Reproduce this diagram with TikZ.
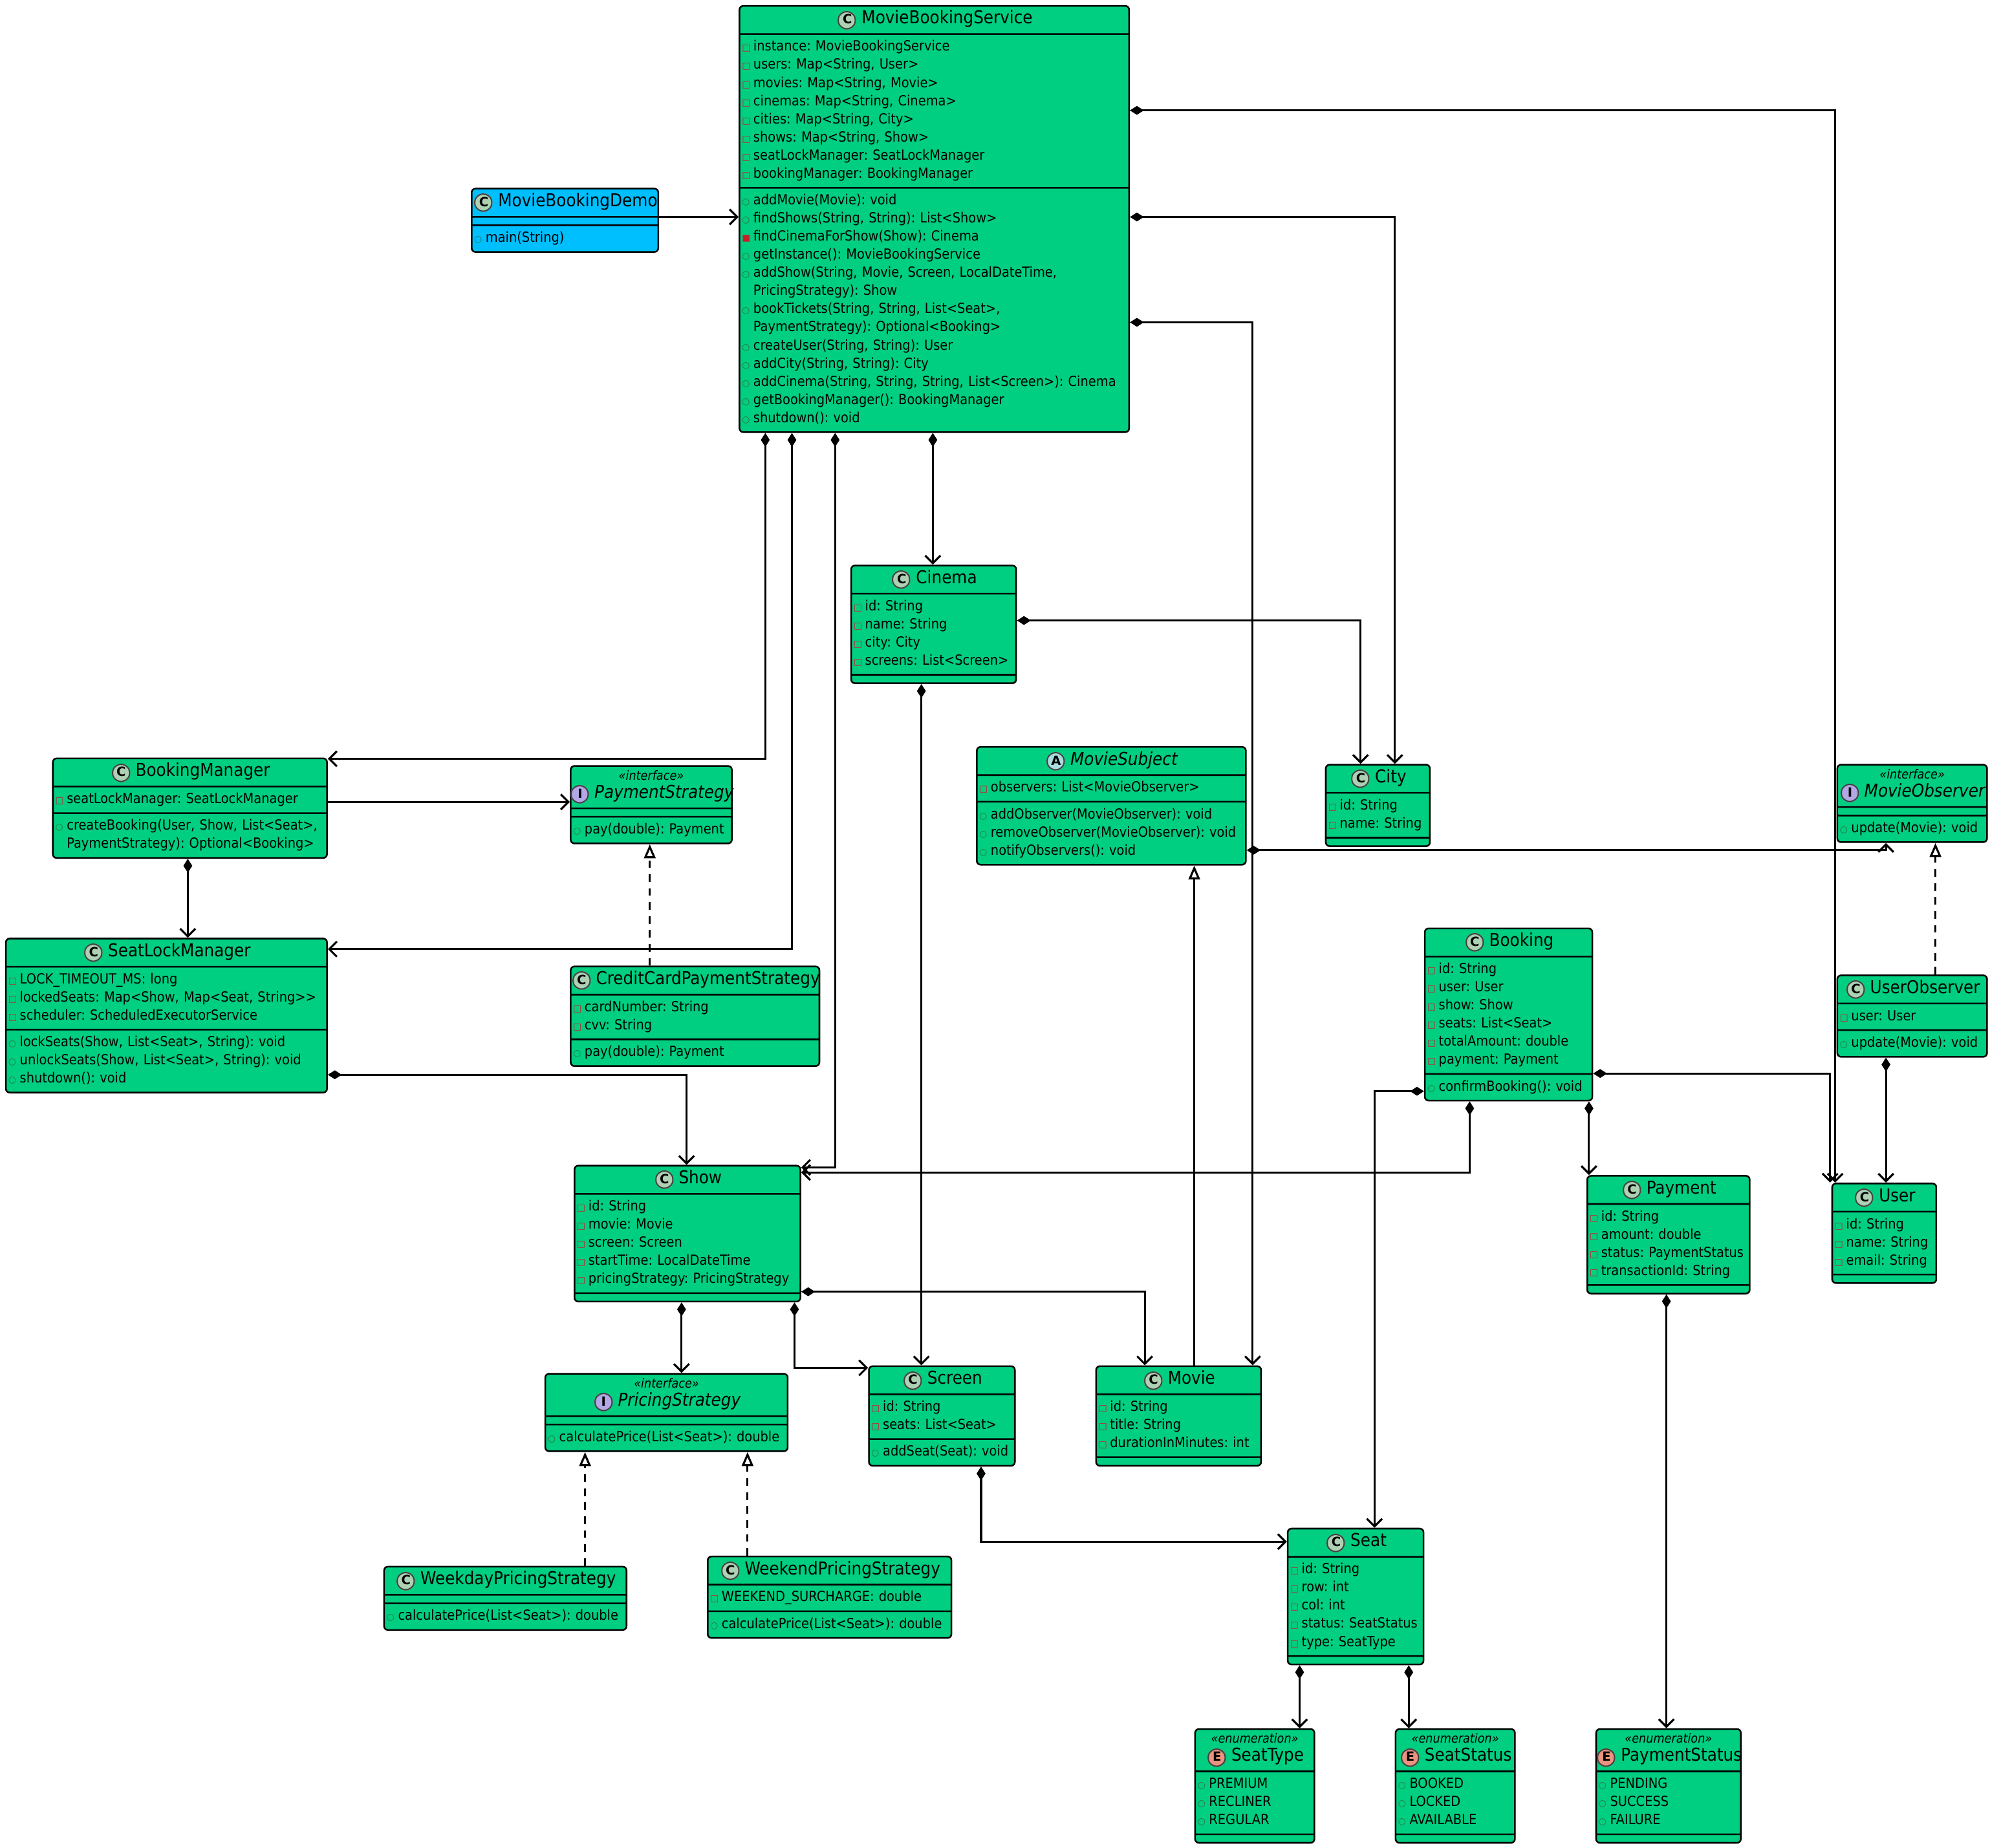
\documentclass[tikz,border=0pt]{standalone}
\usepackage{fontspec}
\setmainfont{DejaVu Sans Condensed}
\newfontfamily\dejavu{DejaVu Sans}
\usetikzlibrary{shapes.multipart,arrows.meta}
\definecolor{boxg}{RGB}{0,206,128}
\definecolor{democ}{RGB}{0,191,255}
\definecolor{icC}{RGB}{173,209,178}
\definecolor{icI}{RGB}{180,167,229}
\definecolor{icA}{RGB}{169,220,223}
\definecolor{icE}{RGB}{235,147,127}
\definecolor{privr}{RGB}{200,30,40}
\definecolor{pubg}{RGB}{50,110,60}
\newif\iffirstitem
\newcommand\lst{\raggedright\firstitemtrue}
\newcommand\nxt{\iffirstitem\firstitemfalse\else\par\fi}
\newcommand\ico[2]{\makebox[18pt][c]{\makebox[0pt][c]{\dejavu\fontsize{19}{19}\selectfont\raisebox{-2.2pt}{\textcolor{#1}{●}}}\makebox[0pt][c]{\dejavu\fontsize{19}{19}\selectfont\raisebox{-2.2pt}{\textcolor{black!75}{○}}}\makebox[0pt][c]{\dejavu\fontsize{10}{10}\selectfont\textbf{#2}}}}
\newcommand\vfp{\nxt\strut\makebox[9pt][l]{\dejavu\fontsize{7}{7}\selectfont\textcolor{privr}{□}}}
\newcommand\vmp{\nxt\strut\makebox[9pt][l]{\dejavu\fontsize{7}{7}\selectfont\textcolor{pubg}{○}}}
\newcommand\vmq{\nxt\strut\makebox[9pt][l]{\dejavu\fontsize{7}{7}\selectfont\textcolor{privr}{■}}}
\newcommand\vind{\par\strut\hspace*{9pt}}
\newcommand\ttl[3]{\hbox to\linewidth{\hss\fontsize{14}{15.5}\selectfont\strut\ico{#1}{#2}\,#3\hss}}
\newcommand\stt[4]{\vbox{\hbox to\linewidth{\hss\fontsize{10}{11}\selectfont\itshape\strut «#3»\hss}\hbox to\linewidth{\hss\fontsize{14}{15.5}\selectfont\strut\ico{#1}{#2}\,#4\hss}}}
\tikzset{
 cls/.style={rectangle split, rectangle split parts=3, draw, line width=1.3pt, rounded corners=3pt,
   inner xsep=2pt, inner ysep=2.7pt, rectangle split empty part height=0pt, anchor=north west,
   font=\fontsize{11}{14.3}\selectfont\frenchspacing, fill=boxg},
 lnk/.style={line width=1.6pt},
 comp/.style={lnk,{Diamond[length=11pt,width=7pt]}-{Straight Barb[length=6pt,width=12pt]}},
 assoc/.style={lnk,-{Straight Barb[length=6pt,width=12pt]}},
 real/.style={lnk,dash pattern=on 6pt off 5pt,-{Triangle[open,fill=white,length=11pt,width=9pt]}},
 inh/.style={lnk,-{Triangle[open,fill=white,length=11pt,width=9pt]}}
}
\begin{document}
\begin{tikzpicture}[x=1pt,y=-1pt]
\useasboundingbox[fill=white] (0,0) rectangle (1568,1456);
\node[cls,text width=303pt] (mbs) at (582,4) {\ttl{icC}{C}{MovieBookingService}
\nodepart{two}\lst\vfp instance: MovieBookingService\vfp users: Map<String, User>\vfp movies: Map<String, Movie>\vfp cinemas: Map<String, Cinema>\vfp cities: Map<String, City>\vfp shows: Map<String, Show>\vfp seatLockManager: SeatLockManager\vfp bookingManager: BookingManager
\nodepart{three}\lst\vmp addMovie(Movie): void\vmp findShows(String, String): List<Show>\vmq findCinemaForShow(Show): Cinema\vmp getInstance(): MovieBookingService\vmp addShow(String, Movie, Screen, LocalDateTime,\vind PricingStrategy): Show\vmp bookTickets(String, String, List<Seat>,\vind PaymentStrategy): Optional<Booking>\vmp createUser(String, String): User\vmp addCity(String, String): City\vmp addCinema(String, String, String, List<Screen>): Cinema\vmp getBookingManager(): BookingManager\vmp shutdown(): void};
\node[cls,fill=democ,text width=143pt] (demo) at (371,148) {\ttl{icC}{C}{MovieBookingDemo}\nodepart{two}\nodepart{three}\lst\vmp main(String)};
\node[cls,text width=126pt] (cinema) at (670,445) {\ttl{icC}{C}{Cinema}\nodepart{two}\lst\vfp id: String\vfp name: String\vfp city: City\vfp screens: List<Screen>\nodepart{three}};
\node[cls,text width=78pt] (city) at (1044,602) {\ttl{icC}{C}{City}\nodepart{two}\lst\vfp id: String\vfp name: String\nodepart{three}};
\node[cls,text width=208pt] (msub) at (769,588) {\ttl{icA}{A}{\textit{MovieSubject}}\nodepart{two}\lst\vfp observers: List<MovieObserver>\nodepart{three}\lst\vmp addObserver(MovieObserver): void\vmp removeObserver(MovieObserver): void\vmp notifyObservers(): void};
\node[cls,text width=114pt] (mobs) at (1447,602) {\stt{icI}{I}{interface}{\textit{MovieObserver}}\nodepart{two}\nodepart{three}\lst\vmp update(Movie): void};
\node[cls,text width=212pt] (bm) at (41,597) {\ttl{icC}{C}{BookingManager}\nodepart{two}\lst\vfp seatLockManager: SeatLockManager\nodepart{three}\lst\vmp createBooking(User, Show, List<Seat>,\vind PaymentStrategy): Optional<Booking>};
\node[cls,text width=123pt] (pays) at (449,603) {\stt{icI}{I}{interface}{\textit{PaymentStrategy}}\nodepart{two}\nodepart{three}\lst\vmp pay(double): Payment};
\node[cls,text width=249pt] (slm) at (4,739) {\ttl{icC}{C}{SeatLockManager}\nodepart{two}\lst\vfp LOCK\_TIMEOUT\_MS: long\vfp lockedSeats: Map<Show, Map<Seat, String>{}>\vfp scheduler: ScheduledExecutorService\nodepart{three}\lst\vmp lockSeats(Show, List<Seat>, String): void\vmp unlockSeats(Show, List<Seat>, String): void\vmp shutdown(): void};
\node[cls,text width=192pt] (cc) at (449,761) {\ttl{icC}{C}{CreditCardPaymentStrategy}\nodepart{two}\lst\vfp cardNumber: String\vfp cvv: String\nodepart{three}\lst\vmp pay(double): Payment};
\node[cls,text width=128pt] (booking) at (1122,731) {\ttl{icC}{C}{Booking}\nodepart{two}\lst\vfp id: String\vfp user: User\vfp show: Show\vfp seats: List<Seat>\vfp totalAmount: double\vfp payment: Payment\nodepart{three}\lst\vmp confirmBooking(): void};
\node[cls,text width=114pt] (uobs) at (1447,768) {\ttl{icC}{C}{UserObserver}\nodepart{two}\lst\vfp user: User\nodepart{three}\lst\vmp update(Movie): void};
\node[cls,text width=174pt] (show) at (452,918) {\ttl{icC}{C}{Show}\nodepart{two}\lst\vfp id: String\vfp movie: Movie\vfp screen: Screen\vfp startTime: LocalDateTime\vfp pricingStrategy: PricingStrategy\nodepart{three}};
\node[cls,text width=124pt] (payment) at (1250,926) {\ttl{icC}{C}{Payment}\nodepart{two}\lst\vfp id: String\vfp amount: double\vfp status: PaymentStatus\vfp transactionId: String\nodepart{three}};
\node[cls,text width=78pt] (user) at (1443,932) {\ttl{icC}{C}{User}\nodepart{two}\lst\vfp id: String\vfp name: String\vfp email: String\nodepart{three}};
\node[cls,text width=187pt] (prs) at (429,1082) {\stt{icI}{I}{interface}{\textit{PricingStrategy}}\nodepart{two}\nodepart{three}\lst\vmp calculatePrice(List<Seat>): double};
\node[cls,text width=111pt] (screen) at (684,1076) {\ttl{icC}{C}{Screen}\nodepart{two}\lst\vfp id: String\vfp seats: List<Seat>\nodepart{three}\lst\vmp addSeat(Seat): void};
\node[cls,text width=126pt] (movie) at (863,1076) {\ttl{icC}{C}{Movie}\nodepart{two}\lst\vfp id: String\vfp title: String\vfp durationInMinutes: int\nodepart{three}};
\node[cls,text width=187pt] (wday) at (302,1234) {\ttl{icC}{C}{WeekdayPricingStrategy}\nodepart{two}\nodepart{three}\lst\vmp calculatePrice(List<Seat>): double};
\node[cls,text width=188pt] (wend) at (557,1226) {\ttl{icC}{C}{WeekendPricingStrategy}\nodepart{two}\lst\vfp WEEKEND\_SURCHARGE: double\nodepart{three}\lst\vmp calculatePrice(List<Seat>): double};
\node[cls,text width=103pt] (seat) at (1014,1204) {\ttl{icC}{C}{Seat}\nodepart{two}\lst\vfp id: String\vfp row: int\vfp col: int\vfp status: SeatStatus\vfp type: SeatType\nodepart{three}};
\node[cls,text width=90pt] (stype) at (941,1362) {\stt{icE}{E}{enumeration}{SeatType}\nodepart{two}\lst\vmp PREMIUM\vmp RECLINER\vmp REGULAR\nodepart{three}};
\node[cls,text width=90pt] (sstat) at (1099,1362) {\stt{icE}{E}{enumeration}{SeatStatus}\nodepart{two}\lst\vmp BOOKED\vmp LOCKED\vmp AVAILABLE\nodepart{three}};
\node[cls,text width=110pt] (pstat) at (1257,1362) {\stt{icE}{E}{enumeration}{PaymentStatus}\nodepart{two}\lst\vmp PENDING\vmp SUCCESS\vmp FAILURE\nodepart{three}};
% connectors
\draw[assoc] (demo.east |- 0,171) -- (mbs.west |- 0,171);
\draw[comp] (mbs.east |- 0,87) -- (1446,87) -- (1446,0 |- user.north);
\draw[comp] (mbs.east |- 0,171) -- (1099,171) -- (1099,0 |- city.north);
\draw[comp] (mbs.east |- 0,254) -- (987,254) -- (987,0 |- movie.north);
\draw[comp] (735,0 |- mbs.south) -- (735,0 |- cinema.north);
\draw[comp] (603,0 |- mbs.south) -- (603,598) -- (bm.east |- 0,598);
\draw[comp] (624,0 |- mbs.south) -- (624,748) -- (slm.east |- 0,748);
\draw[comp] (658,0 |- mbs.south) -- (658,920) -- (show.east |- 0,920);
\draw[comp] (cinema.east |- 0,489) -- (1072,489) -- (1072,0 |- city.north);
\draw[comp] (726,0 |- cinema.south) -- (726,0 |- screen.north);
\draw[assoc] (bm.east |- 0,632) -- (pays.west |- 0,632);
\draw[comp] (148,0 |- bm.south) -- (148,0 |- slm.north);
\draw[real] (512,0 |- cc.north) -- (512,0 |- pays.south);
\draw[comp] (slm.east |- 0,847) -- (541,847) -- (541,0 |- show.north);
\draw[comp] (msub.east |- 0,670) -- (1486,670) -- (1486,0 |- mobs.south);
\draw[real] (1525,0 |- uobs.north) -- (1525,0 |- mobs.south);
\draw[inh] (941,0 |- movie.north) -- (941,0 |- msub.south);
\draw[comp] (booking.east |- 0,846) -- (1442,846) -- (1442,0 |- user.north);
\draw[comp] (booking.west |- 0,860) -- (1083,860) -- (1083,0 |- seat.north);
\draw[comp] (1158,0 |- booking.south) -- (1158,924) -- (show.east |- 0,924);
\draw[comp] (1252,0 |- booking.south) -- (1252,0 |- payment.north);
\draw[comp] (1486,0 |- uobs.south) -- (1486,0 |- user.north);
\draw[comp] (537,0 |- show.south) -- (537,0 |- prs.north);
\draw[comp] (626,0 |- show.south) -- (626,1078) -- (screen.west |- 0,1078);
\draw[comp] (show.east |- 0,1018) -- (902,1018) -- (902,0 |- movie.north);
\draw[comp] (773,0 |- screen.south) -- (773,1215) -- (seat.west |- 0,1215);
\draw[comp] (1024,0 |- seat.south) -- (1024,0 |- stype.north);
\draw[comp] (1110,0 |- seat.south) -- (1110,0 |- sstat.north);
\draw[comp] (1313,0 |- payment.south) -- (1313,0 |- pstat.north);
\draw[real] (461,0 |- wday.north) -- (461,0 |- prs.south);
\draw[real] (589,0 |- wend.north) -- (589,0 |- prs.south);
\end{tikzpicture}
\end{document}
